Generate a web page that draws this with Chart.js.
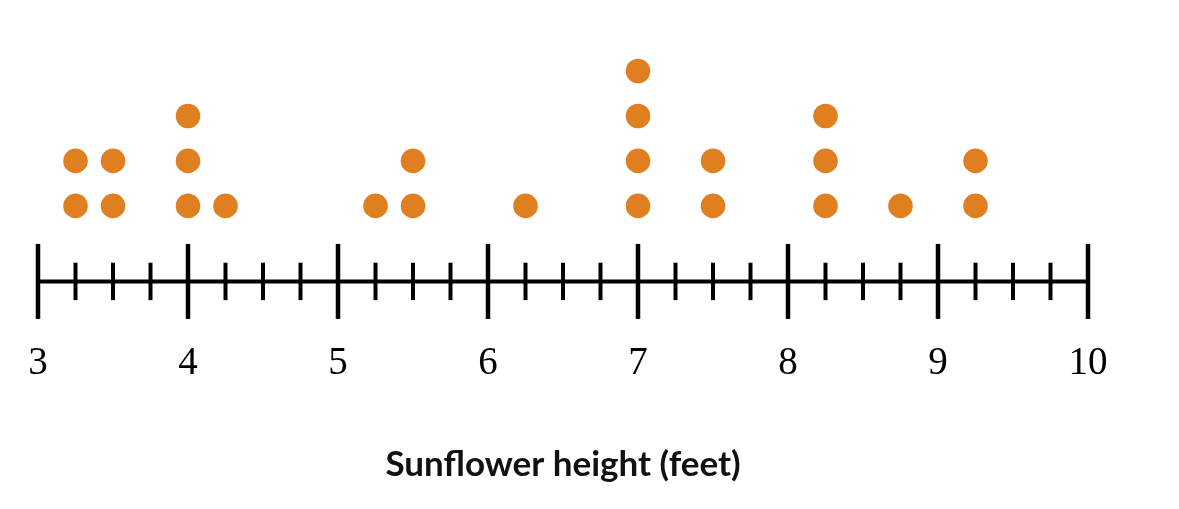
<!DOCTYPE html>
<html>
<head>
<meta charset="utf-8">
<script src="https://cdn.jsdelivr.net/npm/chart.js@4/dist/chart.umd.min.js"></script>
<style>
  html, body { margin: 0; padding: 0; background: #fff; }
  #wrap { width: 1179px; height: 509px; position: relative; }
</style>
</head>
<body>
<div id="wrap"><canvas id="dotplot"></canvas></div>
<script>
// Sunflower heights (feet) and how many sunflowers at each
const heights = [3.25, 3.5, 4, 4.25, 5.25, 5.5, 6.25, 7, 7.5, 8.25, 8.75, 9.25];
const counts = [2, 2, 3, 1, 1, 2, 1, 4, 2, 3, 1, 2];
const tickLabels = ['3', '4', '5', '6', '7', '8', '9', '10'];
const axisTitle = 'Sunflower height (feet)';

const xMin = 3, xMax = 10, minorStep = 0.25;
const lineLevel = -0.68; // y value where the number line sits

// stack the dots, one per sunflower
const points = [];
heights.forEach((h, i) => {
    for (let k = 1; k <= counts[i]; k++) points.push({ x: h, y: k });
});

// draws the number line with long ticks on whole feet, short ones in between
const numberLine = {
    id: 'numberLine',
    beforeDatasetsDraw(chart) {
        const ctx = chart.ctx;
        const xs = chart.scales.x;
        const y = chart.scales.y.getPixelForValue(lineLevel);
        ctx.save();
        ctx.strokeStyle = '#000';
        ctx.lineCap = 'butt';
        ctx.lineWidth = 4;
        ctx.beginPath();
        ctx.moveTo(xs.getPixelForValue(xMin), y);
        ctx.lineTo(xs.getPixelForValue(xMax), y);
        ctx.stroke();
        for (let v = xMin; v <= xMax + 1e-9; v += minorStep) {
            const major = Math.abs(v - Math.round(v)) < 1e-9;
            const px = xs.getPixelForValue(v);
            const half = major ? 37.5 : 18.7;
            ctx.lineWidth = major ? 4.5 : 4;
            ctx.beginPath();
            ctx.moveTo(px, y - half);
            ctx.lineTo(px, y + half);
            ctx.stroke();
        }
        ctx.restore();
    }
};

const ctx = document.getElementById('dotplot').getContext('2d');
const chart = new Chart(ctx, {
    type: 'scatter',
    data: {
        datasets: [{
            data: points,
            backgroundColor: '#E07F1F',
            borderWidth: 0,
            pointRadius: 12.3,
            pointHoverRadius: 12.3
        }]
    },
    options: {
        responsive: true,
        maintainAspectRatio: false,
        animation: false,
        events: [],
        layout: { padding: { left: 38, right: 91, top: 26, bottom: 23.6 } },
        plugins: {
            legend: { display: false },
            tooltip: { enabled: false }
        },
        scales: {
            x: {
                type: 'linear',
                min: xMin,
                max: xMax,
                grid: { display: false },
                border: { display: false },
                ticks: {
                    stepSize: 1,
                    padding: 14.5,
                    color: '#000',
                    font: { family: 'Liberation Serif', size: 39 },
                    callback: (v) => tickLabels[Math.round(v - xMin)]
                },
                title: {
                    display: true,
                    text: axisTitle,
                    color: '#111',
                    font: { family: 'Lato', size: 35, weight: 'bold' },
                    padding: { top: 41.3, bottom: 0 }
                }
            },
            y: {
                display: false,
                min: -1.5,
                max: 5
            }
        }
    },
    plugins: [numberLine]
});
</script>
</body>
</html>
